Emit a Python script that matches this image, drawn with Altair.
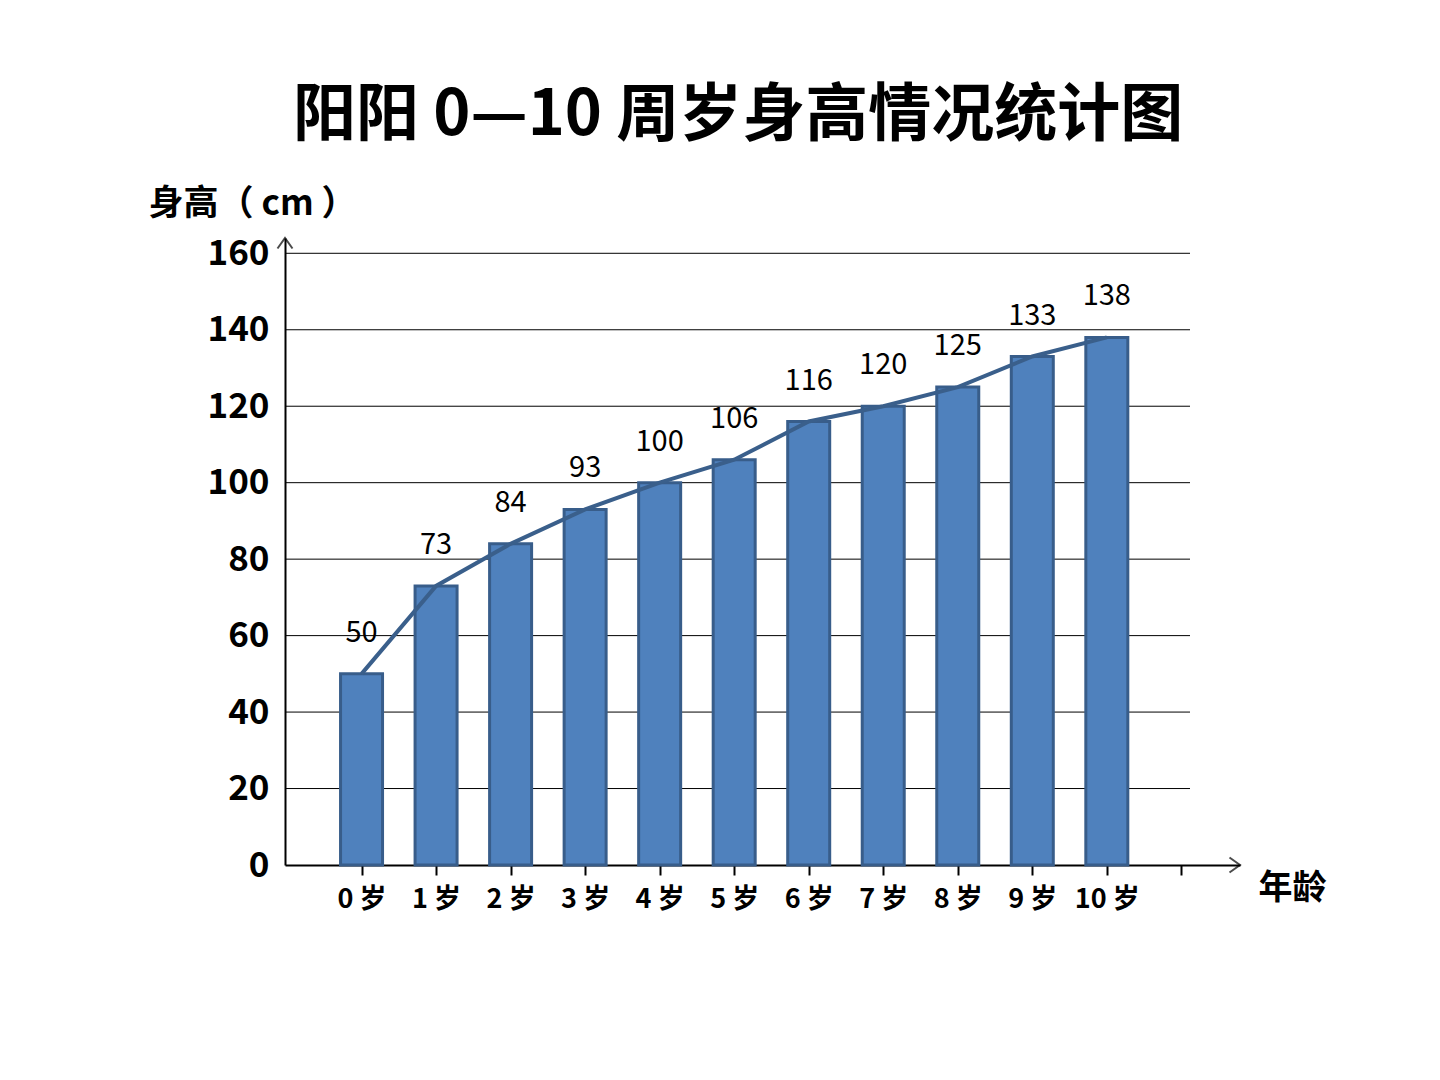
import altair as alt
import pandas as pd

ages = [0, 1, 2, 3, 4, 5, 6, 7, 8, 9, 10]
heights = [50, 73, 84, 93, 100, 106, 116, 120, 125, 133, 138]
y_ticks = [0, 20, 40, 60, 80, 100, 120, 140, 160]
x_ticks = [0, 1, 2, 3, 4, 5, 6, 7, 8, 9, 10, 11]

title_text = "阳阳 0—10 周岁身高情况统计图"
y_title = "身高（ cm ）"
x_title = "年龄"

FONT = "Noto Sans CJK SC"
X_MIN, X_MAX = -0.96, 11.72
Y_MAX = 164

df = pd.DataFrame({"age": ages, "height": heights})
grid_df = pd.DataFrame({"v": y_ticks[1:]})

xs = alt.Scale(domain=[X_MIN, X_MAX], nice=False, zero=False)
ys = alt.Scale(domain=[0, Y_MAX], nice=False)

x_axis = alt.Axis(
    values=x_ticks, labelExpr="datum.value <= 10 ? datum.value + ' 岁' : ''",
    title=x_title, titleAngle=0, titleAlign="left", titleBaseline="middle",
    titleX=973, titleY=23, titleFontSize=34, titleFontWeight="bold", titleFont=FONT,
    titleColor="black",
    labelFontSize=27, labelFontWeight="bold", labelFont=FONT, labelColor="black",
    labelPadding=11, tickSize=10, tickColor="black", tickWidth=2,
    domainColor="black", domainWidth=2, grid=False,
)
y_axis = alt.Axis(
    values=y_ticks, title=y_title, titleAngle=0, titleAlign="left",
    titleBaseline="middle", titleX=-137, titleY=-35, titleFontSize=35,
    titleFontWeight="bold", titleFont=FONT, titleColor="black",
    labelFontSize=35, labelFontWeight="bold", labelFont=FONT, labelColor="black",
    labelPadding=16, ticks=False, domainColor="black", domainWidth=2, grid=False,
)

grid = alt.Chart(grid_df).mark_rule(color="black", strokeWidth=1).encode(
    y=alt.Y("v:Q", scale=ys, axis=y_axis),
    x=alt.value(0), x2=alt.value(905),
)

bars = alt.Chart(df).mark_bar(
    width=42, color="#4F81BD", stroke="#385D8A", strokeWidth=3
).encode(
    x=alt.X("age:Q", scale=xs, axis=x_axis),
    y=alt.Y("height:Q", scale=ys),
)

line = alt.Chart(df).mark_line(color="#3A5F8B", strokeWidth=4).encode(
    x=alt.X("age:Q", scale=xs),
    y=alt.Y("height:Q", scale=ys),
)

labels = alt.Chart(df).mark_text(
    baseline="bottom", dy=-26, fontSize=29, font=FONT, color="black"
).encode(
    x=alt.X("age:Q", scale=xs),
    y=alt.Y("height:Q", scale=ys),
    text="height:Q",
)

y_arrow = alt.Chart(pd.DataFrame({"a": [0]})).mark_point(
    shape="M -0.5 0.7 L 0 0 L 0.5 0.7", filled=False, stroke="black",
    strokeWidth=2, size=900
).encode(x=alt.value(0), y=alt.value(0))

x_arrow = alt.Chart(pd.DataFrame({"a": [0]})).mark_point(
    shape="M -0.7 -0.5 L 0 0 L -0.7 0.5", filled=False, stroke="black",
    strokeWidth=2, size=900
).encode(x=alt.value(955), y=alt.value(627))

chart = alt.layer(grid, bars, line, labels, y_arrow, x_arrow).properties(
    width=955, height=627,
    title=alt.TitleParams(
        title_text, fontSize=63, fontWeight="bold", font=FONT, color="black",
        anchor="start", frame="group", dx=8, offset=38,
    ),
    autosize=alt.AutoSizeParams(type="none"),
    padding={"left": 285, "top": 238, "right": 200, "bottom": 215},
).configure(
    background="white",
    view=alt.ViewConfig(stroke="transparent", strokeWidth=0),
)

chart.save("out.html", embed_options={"renderer": "svg", "actions": False})
